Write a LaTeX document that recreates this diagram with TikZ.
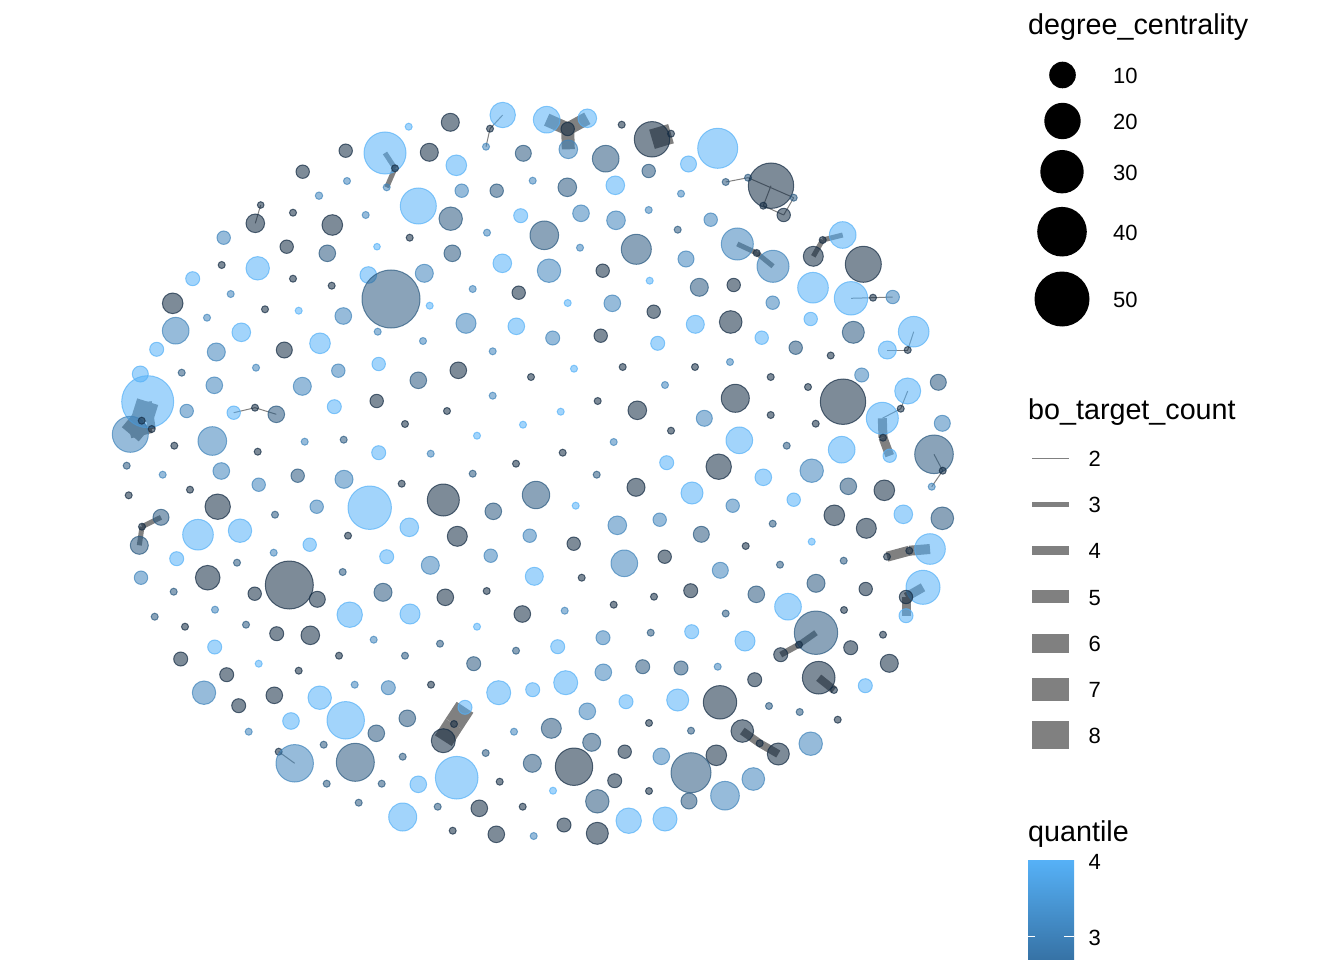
\documentclass[tikz,border=0pt]{standalone}
\usepackage{fontspec}
\setmainfont{Liberation Sans}
\pgfdeclarelayer{background}
\pgfsetlayers{background,main}
\definecolor{qa}{RGB}{19,43,67}
\definecolor{qb}{RGB}{41,88,127}
\definecolor{qc}{RGB}{64,132,187}
\definecolor{qd}{RGB}{86,177,247}
\definecolor{qbot}{RGB}{54,114,165}
\definecolor{edgegray}{RGB}{128,128,128}
\tikzset{
  nd/.style={circle, inner sep=0pt, outer sep=0pt, line width=1pt, fill opacity=0.55, draw opacity=0.7},
  ndd/.style={nd, fill=qa, draw=qa},
  ndb/.style={nd, fill=qb, draw=qb},
  ndm/.style={nd, fill=qc, draw=qc},
  ndl/.style={nd, fill=qd, draw=qd},
  edg/.style={draw=edgegray, line cap=butt, line join=round},
  ttl/.style={anchor=base west, font=\fontsize{28.7}{32}\selectfont, inner sep=0pt},
  lbl/.style={anchor=base west, font=\fontsize{22}{26}\selectfont, inner sep=0pt},
  legdot/.style={circle, fill=black, inner sep=0pt},
}
\newcommand\mkn[5]{\node[nd#5, minimum size={2*#4pt}] (n#1) at (#2,#3) {};}
\newcommand\mke[3]{\path[edg, line width=#3pt] (n#1.center) -- (n#2.center);}
\begin{document}
\begin{tikzpicture}[x=1pt,y=-1pt]
\useasboundingbox (0,0) rectangle (1344,960);
% nodes
\mkn{1}{345.7}{150.7}{6.7}{d}
\mkn{2}{385}{153}{21}{l}
\mkn{3}{302.7}{171.7}{6.7}{d}
\mkn{4}{347}{181}{3.5}{m}
\mkn{5}{319}{195.7}{3.7}{m}
\mkn{6}{260.7}{205}{3.3}{d}
\mkn{7}{293}{212.7}{3.5}{d}
\mkn{8}{365.7}{215}{3.5}{m}
\mkn{9}{255.3}{223.3}{9.3}{d}
\mkn{10}{332.3}{225}{10.3}{d}
\mkn{11}{223.7}{237.7}{6.7}{m}
\mkn{12}{377}{246.7}{3.3}{l}
\mkn{13}{286.7}{246.7}{6.7}{d}
\mkn{14}{327.3}{253.3}{8.3}{b}
\mkn{15}{221.7}{265}{3.5}{d}
\mkn{16}{257.7}{268.3}{11.7}{l}
\mkn{17}{368.3}{275}{8.3}{l}
\mkn{18}{293}{278.7}{3.5}{d}
\mkn{19}{331.7}{285.7}{3.5}{d}
\mkn{20}{192.7}{278.7}{7}{l}
\mkn{21}{391}{299}{29}{b}
\mkn{22}{172.7}{303.3}{10.3}{d}
\mkn{23}{230.7}{294}{3.5}{m}
\mkn{24}{265}{309.3}{3.5}{d}
\mkn{25}{207}{317.7}{3.5}{m}
\mkn{26}{298.7}{310.7}{3.5}{l}
\mkn{27}{343.3}{316}{8.3}{m}
\mkn{28}{175.7}{330.7}{13.3}{m}
\mkn{29}{241.3}{332.3}{9.3}{l}
\mkn{30}{320}{343.3}{10.3}{l}
\mkn{31}{377.7}{331.7}{3.5}{m}
\mkn{32}{156.7}{349.3}{7}{l}
\mkn{33}{216.3}{352}{9}{m}
\mkn{34}{284.3}{350}{8}{d}
\mkn{35}{395}{168.3}{3.5}{d}
\mkn{36}{386.7}{187.3}{3.5}{m}
\mkn{37}{408.7}{126.7}{3.5}{l}
\mkn{38}{450.3}{122.3}{9}{d}
\mkn{39}{502.7}{115}{12.7}{l}
\mkn{40}{490}{128.7}{3.5}{d}
\mkn{41}{486}{146.7}{3.5}{m}
\mkn{42}{546.7}{119.7}{13.3}{l}
\mkn{43}{587.3}{118.3}{9.3}{l}
\mkn{44}{567.7}{129}{6.7}{d}
\mkn{45}{568.3}{149.3}{9.3}{m}
\mkn{46}{621.7}{124.7}{3.5}{d}
\mkn{47}{652}{139.3}{17.7}{d}
\mkn{48}{671}{133.7}{3.5}{d}
\mkn{49}{429.3}{152.3}{9}{d}
\mkn{50}{456.3}{165.3}{10.3}{l}
\mkn{51}{523.3}{153.3}{8}{b}
\mkn{52}{605.7}{158.7}{13.3}{b}
\mkn{53}{648.7}{171}{6.7}{b}
\mkn{54}{461.7}{190.7}{6.7}{m}
\mkn{55}{496.7}{190.7}{6.7}{b}
\mkn{56}{532.7}{180.7}{3.5}{m}
\mkn{57}{567.3}{187.3}{9.3}{b}
\mkn{58}{615.3}{185.3}{9.3}{l}
\mkn{59}{681}{193.7}{3.5}{m}
\mkn{60}{418.3}{206}{18}{l}
\mkn{61}{450.7}{218.7}{11.7}{b}
\mkn{62}{520.7}{215.7}{7}{l}
\mkn{63}{581}{213.3}{8.3}{m}
\mkn{64}{616}{220.3}{9.3}{m}
\mkn{65}{648.7}{210}{3.5}{m}
\mkn{66}{677.7}{229.7}{3.5}{b}
\mkn{67}{409.7}{237.7}{3.5}{d}
\mkn{68}{487}{232.7}{3.5}{m}
\mkn{69}{544.3}{235.3}{14.3}{b}
\mkn{70}{636.3}{249.3}{15}{b}
\mkn{71}{452.3}{253.3}{8.3}{b}
\mkn{72}{502.3}{263.3}{9.3}{l}
\mkn{73}{549}{270.7}{11.7}{m}
\mkn{74}{580}{247.7}{3.5}{m}
\mkn{75}{602.7}{270.7}{6.7}{d}
\mkn{76}{424.3}{273.3}{9}{m}
\mkn{77}{472.7}{289}{3.5}{m}
\mkn{78}{518.7}{292.7}{6.7}{d}
\mkn{79}{429.7}{305.7}{3.5}{l}
\mkn{80}{567.7}{303}{3.5}{l}
\mkn{81}{612.3}{303.3}{8.3}{m}
\mkn{82}{649.7}{280.7}{3.5}{l}
\mkn{83}{653.7}{311.7}{6.7}{d}
\mkn{84}{466}{323.3}{10}{m}
\mkn{85}{516.3}{326.3}{8.3}{l}
\mkn{86}{552.7}{338}{7}{m}
\mkn{87}{600.7}{335.7}{6.7}{d}
\mkn{88}{657.7}{343.3}{7}{l}
\mkn{89}{423}{341}{3.5}{m}
\mkn{90}{492.7}{351.3}{3.5}{m}
\mkn{91}{717.7}{148.3}{20}{l}
\mkn{92}{688.5}{164}{8}{l}
\mkn{93}{725.7}{182}{3.5}{b}
\mkn{94}{748}{177.7}{3.5}{b}
\mkn{95}{771}{185.7}{22.7}{d}
\mkn{96}{793.7}{197.7}{3.5}{b}
\mkn{97}{763.3}{205.7}{3.5}{d}
\mkn{98}{783.7}{215}{6.7}{d}
\mkn{99}{710.7}{219.7}{6.7}{m}
\mkn{100}{737.3}{244}{16}{m}
\mkn{101}{773}{266.3}{16}{m}
\mkn{102}{756.7}{253}{3.5}{d}
\mkn{103}{686}{259}{8}{m}
\mkn{104}{699.3}{287.3}{9}{b}
\mkn{105}{733.7}{285}{6.7}{d}
\mkn{106}{772.7}{302.7}{6.7}{m}
\mkn{107}{695.3}{324.3}{9}{l}
\mkn{108}{730.7}{322}{11.3}{d}
\mkn{109}{761.7}{337.7}{6.7}{l}
\mkn{110}{795.7}{347.7}{6.7}{b}
\mkn{111}{813.3}{256.3}{10}{d}
\mkn{112}{822.7}{240}{3.5}{d}
\mkn{113}{842.7}{235}{13.3}{l}
\mkn{114}{863.3}{264.3}{18}{d}
\mkn{115}{813}{287.7}{15.3}{l}
\mkn{116}{851}{298.3}{16.7}{l}
\mkn{117}{873}{297.7}{3.5}{d}
\mkn{118}{892.7}{297}{6.7}{m}
\mkn{119}{810.7}{319}{6.7}{l}
\mkn{120}{853.3}{332.3}{11}{b}
\mkn{121}{913.7}{331.7}{15.3}{l}
\mkn{122}{887.3}{350}{9}{l}
\mkn{123}{907.7}{350}{3.5}{d}
\mkn{124}{830.7}{355.5}{3.5}{d}
\mkn{125}{140.3}{374}{8}{l}
\mkn{126}{147.7}{401.7}{26}{l}
\mkn{127}{130.3}{434.3}{18}{m}
\mkn{128}{141.7}{420.7}{3.5}{d}
\mkn{129}{151.7}{429}{3.5}{d}
\mkn{130}{181.7}{372.7}{3.5}{b}
\mkn{131}{214.3}{385.3}{8.3}{m}
\mkn{132}{256}{367.7}{3.5}{m}
\mkn{133}{186.7}{411}{6.7}{m}
\mkn{134}{233.7}{412.7}{6.7}{l}
\mkn{135}{255}{407.7}{3.5}{d}
\mkn{136}{276.3}{414.3}{8.3}{b}
\mkn{137}{302.3}{386.3}{9}{m}
\mkn{138}{338.3}{370.7}{6.7}{m}
\mkn{139}{378.7}{364}{6.7}{l}
\mkn{140}{376.7}{401}{6.7}{d}
\mkn{141}{334.3}{406.7}{7}{l}
\mkn{142}{174.3}{445.7}{3.5}{d}
\mkn{143}{212.3}{441}{14.3}{m}
\mkn{144}{257.7}{451.7}{3.5}{d}
\mkn{145}{304.7}{441.7}{3.5}{m}
\mkn{146}{343.7}{439.7}{3.5}{b}
\mkn{147}{378.7}{452.7}{7}{l}
\mkn{148}{126.7}{465.7}{3.5}{b}
\mkn{149}{162.7}{474.7}{3.5}{m}
\mkn{150}{221.3}{471}{8.3}{m}
\mkn{151}{258.7}{484.7}{6.7}{m}
\mkn{152}{297.7}{475.7}{6.7}{b}
\mkn{153}{344}{479.3}{9}{m}
\mkn{154}{128.7}{495.3}{3.5}{d}
\mkn{155}{190}{489.7}{3.5}{d}
\mkn{156}{217.7}{506.7}{12.7}{d}
\mkn{157}{275}{514.7}{3.5}{b}
\mkn{158}{316.7}{506.7}{6.7}{m}
\mkn{159}{369.7}{507.7}{21.7}{l}
\mkn{160}{161}{517.3}{8}{b}
\mkn{161}{142}{526.7}{3.5}{d}
\mkn{162}{139.3}{545.3}{9}{b}
\mkn{163}{198}{534.7}{15.3}{l}
\mkn{164}{240}{530.7}{11.7}{l}
\mkn{165}{348}{535.7}{3.5}{d}
\mkn{166}{309.7}{544.7}{6.7}{l}
\mkn{167}{273.7}{552.7}{3.5}{m}
\mkn{168}{176.7}{558.7}{7}{l}
\mkn{169}{237}{562.7}{3.5}{b}
\mkn{170}{386.7}{556.7}{7}{l}
\mkn{171}{342.7}{572}{3.5}{b}
\mkn{172}{141}{577.7}{6.7}{m}
\mkn{173}{207.7}{577.7}{12.3}{d}
\mkn{174}{289.3}{585}{24}{d}
\mkn{175}{254.7}{593.7}{6.7}{d}
\mkn{176}{317.3}{599.3}{8}{d}
\mkn{177}{383}{592.3}{9}{b}
\mkn{178}{173.7}{591.7}{3.5}{b}
\mkn{179}{215}{609.7}{3.5}{m}
\mkn{180}{418.3}{380.3}{8.3}{b}
\mkn{181}{458.3}{370.3}{8.3}{d}
\mkn{182}{531}{377}{3.5}{d}
\mkn{183}{574}{368.7}{3.5}{l}
\mkn{184}{622.7}{367}{3.5}{d}
\mkn{185}{665}{385}{3.5}{m}
\mkn{186}{492.7}{395.7}{3.5}{m}
\mkn{187}{447}{411}{3.5}{d}
\mkn{188}{405}{424}{3.5}{d}
\mkn{189}{523}{424.7}{3.5}{l}
\mkn{190}{560.7}{411.7}{3.5}{l}
\mkn{191}{597.7}{401}{3.5}{d}
\mkn{192}{637.3}{410.3}{9.3}{d}
\mkn{193}{671}{430.7}{3.5}{d}
\mkn{194}{477}{435.7}{3.5}{l}
\mkn{195}{430.7}{453.7}{3.5}{m}
\mkn{196}{516}{463.7}{3.5}{d}
\mkn{197}{562.7}{452.7}{3.5}{d}
\mkn{198}{613.7}{442}{3.5}{m}
\mkn{199}{666.7}{462.7}{7}{l}
\mkn{200}{472.7}{473.7}{3.5}{b}
\mkn{201}{401.7}{483.7}{3.5}{d}
\mkn{202}{596.7}{474.7}{3.5}{b}
\mkn{203}{636}{487.3}{9}{d}
\mkn{204}{443.3}{500}{16}{d}
\mkn{205}{536}{495}{13.7}{b}
\mkn{206}{493.3}{511.3}{8.3}{b}
\mkn{207}{575.7}{505.7}{3.5}{l}
\mkn{208}{692}{493}{11}{l}
\mkn{209}{409.3}{527.3}{9.3}{l}
\mkn{210}{457.3}{536.3}{10}{d}
\mkn{211}{529.7}{535.7}{6.7}{m}
\mkn{212}{573.7}{543.7}{6.7}{d}
\mkn{213}{617.3}{525.3}{9.3}{m}
\mkn{214}{659.7}{519.7}{6.7}{m}
\mkn{215}{430.3}{565.3}{9}{m}
\mkn{216}{490.7}{555.7}{6.7}{m}
\mkn{217}{534.3}{576.3}{9}{l}
\mkn{218}{581.7}{577.7}{3.5}{d}
\mkn{219}{624.3}{563.3}{13.3}{m}
\mkn{220}{664.7}{556.7}{6.7}{d}
\mkn{221}{445.3}{597.3}{8.3}{d}
\mkn{222}{486.7}{591}{3.5}{d}
\mkn{223}{522.3}{614}{8.3}{d}
\mkn{224}{564.7}{610.7}{3.5}{m}
\mkn{225}{613.7}{604.7}{3.5}{d}
\mkn{226}{654}{596.7}{3.5}{d}
\mkn{227}{410}{614}{10}{l}
\mkn{228}{695}{367}{3.5}{d}
\mkn{229}{730}{362}{3.5}{m}
\mkn{230}{770.7}{377}{3.5}{d}
\mkn{231}{808}{387}{3.5}{d}
\mkn{232}{861.7}{375}{7}{m}
\mkn{233}{735.3}{398.3}{14}{d}
\mkn{234}{843}{401.7}{22.7}{d}
\mkn{235}{907.7}{391}{13}{l}
\mkn{236}{938.3}{382.3}{8}{b}
\mkn{237}{704.3}{418.3}{8}{m}
\mkn{238}{770.7}{415}{3.5}{d}
\mkn{239}{815.7}{423.7}{3.5}{d}
\mkn{240}{882.3}{418.3}{16}{l}
\mkn{241}{900.7}{408.7}{3.5}{d}
\mkn{242}{883}{437.7}{3.5}{d}
\mkn{243}{889.7}{455.7}{6.7}{l}
\mkn{244}{739.3}{440.3}{13.3}{l}
\mkn{245}{786.7}{445.7}{3.5}{b}
\mkn{246}{841.7}{449.7}{13.3}{l}
\mkn{247}{934}{454.3}{19.3}{b}
\mkn{248}{942.7}{470.7}{3.5}{d}
\mkn{249}{931.7}{486.7}{3.5}{m}
\mkn{250}{942.3}{423.3}{8}{m}
\mkn{251}{718.7}{466.7}{12.7}{d}
\mkn{252}{763.3}{477.3}{8.3}{l}
\mkn{253}{811.7}{470.7}{11.7}{m}
\mkn{254}{732.7}{505.7}{6.7}{m}
\mkn{255}{793.7}{499.7}{6.7}{l}
\mkn{256}{848.3}{486.3}{8.3}{b}
\mkn{257}{884.3}{490.3}{10.3}{d}
\mkn{258}{903.3}{514.3}{9.3}{l}
\mkn{259}{942.3}{518.3}{11.3}{b}
\mkn{260}{834.3}{515.3}{10.3}{d}
\mkn{261}{866.3}{528.3}{10}{d}
\mkn{262}{701.3}{534.3}{8}{b}
\mkn{263}{772.7}{523.7}{3.5}{b}
\mkn{264}{811.7}{541.7}{3.5}{l}
\mkn{265}{745.7}{546}{3.5}{d}
\mkn{266}{930}{549}{15.3}{l}
\mkn{267}{909.3}{550.7}{3.5}{d}
\mkn{268}{887}{556.7}{3.5}{d}
\mkn{269}{843.7}{560.7}{3.5}{b}
\mkn{270}{780}{564.7}{3.5}{b}
\mkn{271}{720.3}{570.3}{8}{m}
\mkn{272}{816}{583.3}{9}{b}
\mkn{273}{865.7}{589}{6.7}{d}
\mkn{274}{923}{587.3}{17}{l}
\mkn{275}{906}{597}{6.7}{d}
\mkn{276}{906}{615.7}{7}{l}
\mkn{277}{690.7}{590.7}{7}{d}
\mkn{278}{756.3}{594.3}{8.3}{b}
\mkn{279}{788}{606.7}{13.3}{l}
\mkn{280}{725.7}{613.5}{3.5}{b}
\mkn{281}{844}{610}{3.5}{d}
\mkn{282}{154.7}{616.7}{3.5}{b}
\mkn{283}{185}{626.7}{3.5}{d}
\mkn{284}{246}{624.7}{3.5}{b}
\mkn{285}{276.7}{633.7}{7}{d}
\mkn{286}{310.3}{635.3}{9.3}{d}
\mkn{287}{349.7}{614.7}{12.7}{l}
\mkn{288}{373.7}{639.7}{3.5}{m}
\mkn{289}{214.7}{647}{7}{l}
\mkn{290}{180.7}{659}{7}{d}
\mkn{291}{258.7}{663.7}{3.5}{l}
\mkn{292}{298.7}{670.7}{3.5}{d}
\mkn{293}{339}{655.7}{3.5}{d}
\mkn{294}{226.7}{674.7}{7}{d}
\mkn{295}{354.7}{684.7}{3.5}{m}
\mkn{296}{388.3}{687.7}{7}{m}
\mkn{297}{204}{692.7}{11.7}{m}
\mkn{298}{274.3}{695.3}{8.3}{d}
\mkn{299}{319.7}{697.7}{11.7}{l}
\mkn{300}{238.7}{705.7}{7}{d}
\mkn{301}{291}{721}{8.3}{l}
\mkn{302}{345.7}{720.3}{18.7}{l}
\mkn{303}{376.3}{733.3}{8.3}{b}
\mkn{304}{248.7}{731.7}{3.5}{m}
\mkn{305}{323.7}{744.7}{3.5}{b}
\mkn{306}{278.7}{751.7}{3.5}{d}
\mkn{307}{294.7}{763.3}{18.7}{m}
\mkn{308}{355.3}{762.3}{19}{b}
\mkn{309}{326.7}{783.7}{3.5}{b}
\mkn{310}{381.7}{783.7}{3.5}{b}
\mkn{311}{358.7}{802.7}{3.5}{b}
\mkn{312}{477}{626.7}{3.5}{l}
\mkn{313}{440}{643.7}{3.5}{b}
\mkn{314}{516}{650.7}{3.5}{b}
\mkn{315}{603}{637.7}{7}{m}
\mkn{316}{650.7}{632.7}{3.5}{b}
\mkn{317}{405}{655.7}{3.5}{b}
\mkn{318}{473.7}{663.7}{7}{b}
\mkn{319}{557.7}{646.7}{7}{l}
\mkn{320}{642.7}{666.7}{7}{b}
\mkn{321}{603.3}{672.3}{8.3}{m}
\mkn{322}{681}{668}{7}{b}
\mkn{323}{431}{684.7}{3.5}{d}
\mkn{324}{498.7}{692.7}{12}{l}
\mkn{325}{532.7}{689.7}{7}{l}
\mkn{326}{565.7}{682.7}{12}{l}
\mkn{327}{626}{701.7}{7}{l}
\mkn{328}{677.7}{700}{11}{l}
\mkn{329}{587.3}{711.3}{8.3}{m}
\mkn{330}{649}{723}{3.5}{d}
\mkn{331}{407.3}{718.3}{8.3}{b}
\mkn{332}{465}{707.3}{7}{l}
\mkn{333}{454}{724}{3.5}{d}
\mkn{334}{443.3}{740.7}{12}{d}
\mkn{335}{551.3}{728.3}{10}{b}
\mkn{336}{514}{731.7}{3.5}{m}
\mkn{337}{591.7}{742.3}{9}{b}
\mkn{338}{624.7}{751.7}{6.7}{d}
\mkn{339}{661.3}{756.3}{8.3}{m}
\mkn{340}{402.7}{756.7}{3.5}{b}
\mkn{341}{485.7}{753}{3.5}{b}
\mkn{342}{532.3}{763.3}{9}{b}
\mkn{343}{574}{766.7}{18.7}{d}
\mkn{344}{456.7}{777.7}{21.3}{l}
\mkn{345}{418.3}{784.3}{8.3}{l}
\mkn{346}{499.7}{781.7}{3.5}{d}
\mkn{347}{553}{790.7}{3.5}{l}
\mkn{348}{614.7}{780.7}{7}{d}
\mkn{349}{649}{791}{3.5}{d}
\mkn{350}{402.7}{817}{14}{l}
\mkn{351}{437.7}{806.7}{3.5}{b}
\mkn{352}{479.3}{808.3}{8.3}{d}
\mkn{353}{522.7}{806.7}{3.5}{d}
\mkn{354}{597.3}{801.3}{11.7}{b}
\mkn{355}{452.7}{830.7}{3.5}{d}
\mkn{356}{496.3}{834.3}{8.3}{d}
\mkn{357}{533.7}{836}{3.5}{m}
\mkn{358}{564}{825}{7}{d}
\mkn{359}{597.3}{833.3}{11}{d}
\mkn{360}{628.7}{820.7}{12.7}{l}
\mkn{361}{665}{819}{12}{l}
\mkn{362}{816}{632.7}{21.7}{b}
\mkn{363}{780.7}{654.7}{7}{d}
\mkn{364}{799}{644.7}{3.5}{d}
\mkn{365}{850.7}{647.7}{7}{d}
\mkn{366}{883}{634.7}{3.5}{d}
\mkn{367}{691.7}{631.7}{7}{l}
\mkn{368}{745}{641}{10}{l}
\mkn{369}{717.7}{666.7}{3.5}{m}
\mkn{370}{754.7}{679.7}{7}{d}
\mkn{371}{818.7}{677.7}{16.3}{d}
\mkn{372}{834}{690}{3.5}{d}
\mkn{373}{865.3}{685.7}{7}{l}
\mkn{374}{889.3}{663.3}{9}{d}
\mkn{375}{720}{702.3}{16.7}{d}
\mkn{376}{769}{706}{3.5}{b}
\mkn{377}{799.7}{712}{3.5}{b}
\mkn{378}{837.7}{719.7}{3.5}{d}
\mkn{379}{691}{730.7}{3.5}{b}
\mkn{380}{742.3}{731}{11.3}{d}
\mkn{381}{759.7}{743.3}{3.5}{d}
\mkn{382}{778.3}{754}{11}{d}
\mkn{383}{810.7}{743.7}{11.7}{m}
\mkn{384}{716.3}{755.3}{10.3}{d}
\mkn{385}{691}{772.7}{20}{b}
\mkn{386}{753.3}{779}{11.3}{m}
\mkn{387}{725}{795.7}{14.3}{m}
\mkn{388}{689}{801}{8}{b}
% edges (under the nodes)
\begin{pgfonlayer}{background}
\mke{40}{39}{1}
\mke{40}{41}{1}
\mke{44}{42}{13}
\mke{44}{43}{13}
\mke{44}{45}{13}
\mke{47}{48}{20}
\mke{93}{94}{1}
\mke{94}{96}{1}
\mke{95}{97}{1}
\mke{97}{98}{1}
\mke{98}{96}{1}
\mke{100}{102}{5}
\mke{102}{101}{5}
\mke{111}{112}{5}
\mke{112}{113}{5}
\mke{116}{117}{1}
\mke{117}{118}{1}
\mke{122}{123}{1}
\mke{123}{121}{1}
\mke{240}{241}{1}
\mke{241}{235}{1}
\mke{240}{242}{9}
\mke{242}{243}{9}
\mke{247}{248}{1}
\mke{248}{249}{1}
\mke{268}{267}{10}
\mke{267}{266}{10}
\mke{275}{274}{9}
\mke{275}{276}{9}
\mke{363}{364}{6}
\mke{364}{362}{6}
\mke{371}{372}{8}
\mke{380}{381}{8}
\mke{381}{382}{8}
\mke{334}{333}{20}
\mke{333}{332}{20}
\mke{306}{307}{1}
\mke{134}{135}{1}
\mke{135}{136}{1}
\mke{161}{160}{5}
\mke{161}{162}{5}
\mke{128}{126}{22}
\mke{128}{127}{22}
\mke{129}{126}{8}
\mke{129}{127}{8}
\mke{9}{6}{1}
\mke{2}{35}{5}
\mke{35}{36}{5}
\end{pgfonlayer}
% legend: degree_centrality
\node[ttl] (t1) at (1028,35) {degree\_centrality};
\node[legdot, minimum size=26.6pt] (s10) at (1062.5,75) {};
\node[legdot, minimum size=36.4pt] (s20) at (1062.5,121) {};
\node[legdot, minimum size=43.4pt] (s30) at (1062,171.7) {};
\node[legdot, minimum size=49.6pt] (s40) at (1062,231.7) {};
\node[legdot, minimum size=55pt] (s50) at (1062,299) {};
\node[lbl] (l10) at (1113,83.5) {10};
\node[lbl] (l20) at (1113,129.5) {20};
\node[lbl] (l30) at (1113,180.2) {30};
\node[lbl] (l40) at (1113,240.2) {40};
\node[lbl] (l50) at (1113,307.5) {50};
% legend: bo_target_count
\node[ttl] (t2) at (1028,419.3) {bo\_target\_count};
\fill[edgegray] (1032,457.8) rectangle (1069,458.8);
\fill[edgegray] (1032,501.8) rectangle (1069,506.8);
\fill[edgegray] (1032,545.8) rectangle (1069,554.8);
\fill[edgegray] (1032,590.2) rectangle (1069,603.2);
\fill[edgegray] (1032,633.8) rectangle (1069,652.8);
\fill[edgegray] (1032,677.8) rectangle (1069,700.8);
\fill[edgegray] (1032,721) rectangle (1069,749);
\node[lbl] (w2) at (1088.3,466.8) {2};
\node[lbl] (w3) at (1088.3,512.8) {3};
\node[lbl] (w4) at (1088.3,558.8) {4};
\node[lbl] (w5) at (1088.3,605.2) {5};
\node[lbl] (w6) at (1088.3,651.8) {6};
\node[lbl] (w7) at (1088.3,697.8) {7};
\node[lbl] (w8) at (1088.3,743.5) {8};
% legend: quantile
\node[ttl] (t3) at (1028,841.7) {quantile};
\shade[top color=qd, bottom color=qbot] (1028,860) rectangle (1074,960);
\draw[white, line width=1pt] (1028,936) -- (1034.7,936) (1064,936) -- (1074,936);
\node[lbl] (q4) at (1088.3,869) {4};
\node[lbl] (q3) at (1088.3,945) {3};
\end{tikzpicture}
\end{document}
